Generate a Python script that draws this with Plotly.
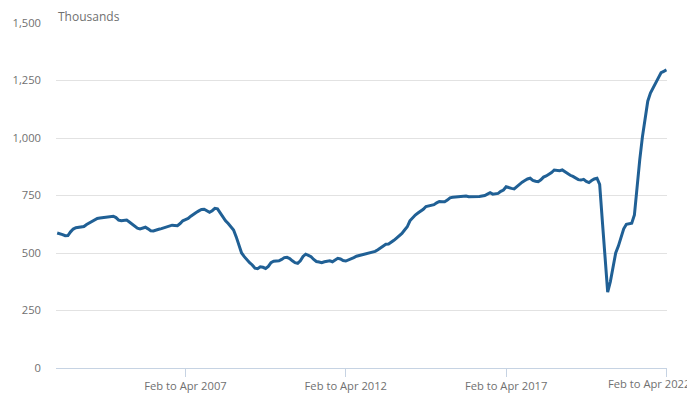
import plotly.graph_objects as go

# Monthly rolling quarterly periods, Feb to Apr 2003 .. Feb to Apr 2022
month_names = ["Jan", "Feb", "Mar", "Apr", "May", "Jun", "Jul", "Aug", "Sep", "Oct", "Nov", "Dec"]
start_year = 2003
start_month = 1  # Feb (0-based)
n_periods = 229

periods = []
for k in range(n_periods):
    m0 = start_month + k
    m2 = m0 + 2
    label = f"{month_names[m0 % 12]} to {month_names[m2 % 12]} {start_year + m2 // 12}"
    periods.append(label)

# Vacancies, thousands
vacancies = [
    587, 585, 580, 575, 576, 592, 604, 610, 612, 611, 615, 624,
    630, 635, 642, 650, 652, 654, 655, 658, 661, 660, 654, 643,
    640, 641, 643, 635, 626, 618, 608, 605, 607, 612, 605, 597,
    596, 598, 603, 606, 610, 613, 618, 621, 620, 619, 628, 640,
    645, 650, 660, 670, 676, 683, 689, 690, 684, 677, 684, 694,
    692, 675, 655, 640, 628, 615, 600, 570, 530, 500, 484, 470,
    458, 448, 434, 432, 440, 438, 433, 442, 458, 464, 465, 466,
    472, 480, 481, 476, 466, 458, 455, 466, 485, 495, 490, 484,
    472, 463, 461, 458, 462, 465, 466, 462, 470, 477, 474, 467,
    465, 469, 476, 480, 486, 489, 493, 498, 501, 503, 505, 507,
    514, 522, 530, 538, 539, 546, 555, 565, 575, 585, 600, 614,
    640, 655, 665, 674, 682, 690, 702, 705, 707, 710, 718, 724,
    723, 723, 730, 740, 742, 743, 744, 745, 748, 748, 745, 745,
    744, 745, 746, 748, 750, 756, 762, 756, 756, 759, 768, 774,
    788, 783, 781, 779, 790, 800, 808, 815, 822, 825, 816, 812,
    810, 818, 830, 835, 841, 850, 861, 859, 858, 861, 852, 846,
    838, 833, 824, 819, 817, 820, 811, 806, 815, 822, 825, 798,
    640, 480, 330, 375, 440, 500, 530, 570, 605, 625, 627, 630,
    665, 790, 905, 1005, 1090, 1160, 1195, 1218, 1242, 1268, 1284, 1290,
    1296,
]

x_tick_labels = ["Feb to Apr 2007", "Feb to Apr 2012", "Feb to Apr 2017", "Feb to Apr 2022"]
y_tick_values = [0, 250, 500, 750, 1000, 1250, 1500]
y_unit_label = "Thousands"

fig = go.Figure()
fig.add_trace(go.Scatter(
    x=periods,
    y=vacancies,
    mode="lines",
    line=dict(color="#206095", width=3),
    hoverinfo="x+y",
    showlegend=False,
))

font_family = "Open Sans, sans-serif"
tick_color = "#707070"
tick_size = 11.2

# last tick label is drawn as an annotation so that it stays inside the chart
tick_text = x_tick_labels[:-1] + [""]

fig.update_layout(
    width=687,
    height=392,
    margin=dict(l=48, r=28, t=15, b=32),
    paper_bgcolor="white",
    plot_bgcolor="white",
    font=dict(family=font_family, size=tick_size, color=tick_color),
    xaxis=dict(
        type="category",
        range=[-0.45, len(periods) - 1 + 0.2],
        tickmode="array",
        tickvals=x_tick_labels,
        ticktext=tick_text,
        ticks="outside",
        ticklen=8,
        tickcolor="#c6d3e3",
        tickwidth=1,
        showgrid=False,
        showline=True,
        linecolor="#c6d3e3",
        linewidth=1,
        zeroline=False,
        automargin=False,
        tickfont=dict(size=tick_size, color=tick_color),
        fixedrange=True,
    ),
    yaxis=dict(
        range=[0, 1500],
        tickmode="array",
        tickvals=y_tick_values,
        tickformat=",",
        showgrid=True,
        gridcolor="#e2e2e2",
        gridwidth=1,
        zeroline=False,
        showline=False,
        ticks="",
        ticklabelstandoff=14,
        automargin=False,
        tickfont=dict(size=tick_size, color=tick_color),
        fixedrange=True,
    ),
    annotations=[
        dict(
            text=y_unit_label,
            xref="paper", yref="paper",
            x=0, y=1.0,
            xanchor="left", yanchor="bottom",
            yshift=-4,
            showarrow=False,
            font=dict(family=font_family, size=12, color=tick_color),
        ),
        dict(
            text=x_tick_labels[-1],
            xref="paper", yref="paper",
            x=1.0, y=0,
            xanchor="right", yanchor="middle",
            xshift=25, yshift=-15,
            showarrow=False,
            font=dict(family=font_family, size=tick_size, color=tick_color),
        ),
    ],
)

fig.write_html("out.html")
